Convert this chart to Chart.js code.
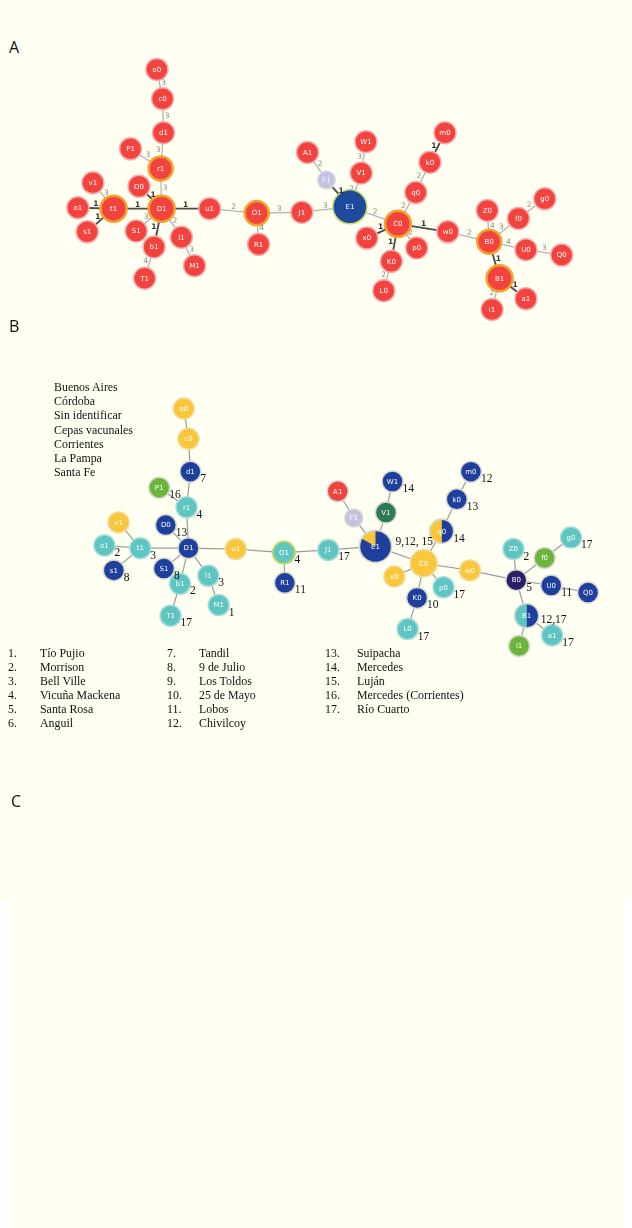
<!DOCTYPE html>
<html>
<head>
<meta charset="utf-8">
<script src="https://cdn.jsdelivr.net/npm/chart.js@4.4.1/dist/chart.umd.min.js"></script>
<style>
  html, body { margin: 0; padding: 0; background: #ffffff; }
  body { width: 632px; height: 1228px; position: relative; overflow: hidden; }
  .paper-top { position: absolute; left: 0; top: 0; width: 632px; height: 900px; background: #fffff2; }
  .paper-low { position: absolute; left: 7px; top: 900px; width: 616px; height: 328px; background: #fffff2; }
  canvas { position: absolute; left: 0; }
  .tag { position: absolute; left: 9px; font-family: "Open Sans", "DejaVu Sans", sans-serif; font-size: 16px; color: #111; line-height: 16px; }
  .serif { position: absolute; font-family: "Liberation Serif", "Times New Roman", serif; font-size: 11.9px; color: #111; }
  #legendB div { height: 14.2px; line-height: 14.2px; white-space: nowrap; }
  .col div { height: 14px; line-height: 14px; white-space: nowrap; }
</style>
</head>
<body>
<div class="paper-top"></div>
<div class="paper-low"></div>

<div class="tag" style="top:39px;">A</div>
<canvas id="netA" width="632" height="345" style="top:0px;"></canvas>

<div class="tag" style="top:318px;">B</div>
<canvas id="netB" width="632" height="315" style="top:360px;"></canvas>
<div id="legendB" class="serif" style="left:54px; top:380px;"></div>
<div id="placeList"></div>

<div class="tag" style="top:793px; left:11px;">C</div>

<script>
// ---- network nodes (layout coordinates for the two drawings) ----
const nodeIds = ['o0','c0','d1','P1','r1','v1','D0','o1','t1','D1','u1','O1','s1','S1','l1','b1','R1','M1','T1',
                 'J1','A1','F1','E1','V1','W1','q0','k0','m0','C0','x0','p0','K0','L0','w0',
                 'B0','Z0','f0','g0','U0','Q0','B1','a1','i1'];
const posAX = [147,153,154,119,151, 79,128, 63,101,152,203,253, 73,125,173,144,255,187,134,
               301,307,327,352,364,369,422,437,453,403,370,423,396,388,456,
               500,498,531,559,539,577,511,539,503];
const posAY = [ 57, 90,128,146,168,184,188,212,213,213,213,218,239,238,245,256,253,277,291,
               217,150,181,211,173,138,195,161,128,230,246,257,272,305,239,
               250,215,224,202,259,265,291,314,326];
const posBX = [176,181,183,150,179,107,157, 92,130,181,231,282,102,155,202,172,283,213,162,
               329,339,356,379,390,397,449,465,480,430,399,451,423,413,479,
               528,525,558,586,565,604,539,566,531];
const posBY = [395,429,466,484,506,523,526,549,552,552,553,557,577,575,583,592,591,616,628,
               554,488,518,550,512,477,533,497,466,569,584,596,608,643,577,
               588,553,563,540,594,602,628,650,662];

// ---- links between nodes and their allele differences ----
const edgeFrom   = ['o0','c0','d1','P1','r1','D0','v1','o1','s1','t1','D1','D1','D1','l1','b1','D1','u1','O1','O1','J1',
                    'A1','F1','V1','W1','E1','C0','q0','k0','C0','C0','K0','C0','C0','w0','B0','B0','f0','B0','U0','B0','B1','B1'];
const edgeTo     = ['c0','d1','r1','r1','D1','D1','t1','t1','t1','D1','S1','b1','l1','M1','T1','u1','O1','J1','R1','E1',
                    'F1','E1','E1','V1','C0','q0','k0','m0','x0','K0','L0','p0','w0','B0','Z0','f0','g0','U0','Q0','B1','a1','i1'];
const edgeWeight = [3,3,3,3,3,1,3,1,1,1,3,1,2,3,4,1,2,3,4,3,
                    2,1,2,3,2,2,2,1,1,1,2,2,1,2,4,3,2,4,3,1,1,2];

// ---- origin groups of the isolates (drawing B) ----
const groupB = ['SI','SI','BA','CO','CB','SI','BA','CB','CB','BA','SI','CB','BA','BA','CB','CB','BA','CB','CB',
                'CB','RD','CV','BA','SF','BA','SI','BA','BA','SI','SI','CB','BA','CB','SI',
                'LP','CB','CO','CB','BA','BA','CB','CB','CO'];
// nodes holding isolates of more than one group: group and count, clockwise from the top
const mixedNodes = ['E1','q0','B1'];
const mixedGroups = [['BA','SI'], ['BA','SI'], ['BA','CB']];
const mixedCounts = [[5,1], [1,1], [1,1]];
// place numbers written beside each node
const notesB = ['','','7','16','4','','13','2','3','','','4','8','8','3','2','11','1','17',
                '17','','','9,12, 15','','14','14','13','12','','','17','10','17','',
                '5','2','','17','11','','12,17','17',''];

const legendLabels = ['Buenos Aires','Córdoba','Sin identificar','Cepas vacunales','Corrientes','La Pampa','Santa Fe'];
const placeNames = ['Tío Pujio','Morrison','Bell Ville','Vicuña Mackena','Santa Rosa','Anguil',
                    'Tandil','9 de Julio','Los Toldos','25 de Mayo','Lobos','Chivilcoy',
                    'Suipacha','Mercedes','Luján','Mercedes (Corrientes)','Río Cuarto'];

// ---- styling ----
const groupColor = { BA:'#1f3f9c', CB:'#5ec5c1', SI:'#f9c63c', CV:'#c3c3e0', CO:'#6db43c', LP:'#2a2068', SF:'#2d7a58', RD:'#f2443f' };
const hubRing = ['t1','D1','r1','O1','C0','B0','B1'];
const radiusA = { t1:13, D1:13, r1:12, O1:12, C0:13, B0:12, B1:13, E1:17, F1:9 };
const radiusB = { C0:13.5, E1:16, q0:12, F1:9, B1:12, O1:11 };

function nodeRadius(panel, id) {
  const m = panel === 'A' ? radiusA : radiusB;
  return m[id] || (panel === 'A' ? 11 : 10.5);
}

function nodeStyle(panel, id, i) {
  if (panel === 'A') {
    let fill = '#f2433f', ring = '#f5aeae', w = 1.5;
    if (id === 'E1') { fill = '#1d4a9c'; ring = '#c9d86a'; w = 1.5; }
    if (id === 'F1') { fill = '#c4c4df'; ring = '#dcdcee'; }
    if (hubRing.includes(id)) { ring = '#f3a22c'; w = 2.5; }
    return { fill, ring, w };
  }
  const g = groupB[i];
  let fill = groupColor[g];
  let ring = '#d9d9d2', w = 1.5;
  if (g === 'CB') ring = '#a6dedb';
  if (g === 'SI') ring = '#f2dc9a';
  if (id === 'O1') { ring = '#b4d56a'; w = 2; }
  return { fill, ring, w };
}

const idx = {};
nodeIds.forEach((id, i) => { idx[id] = i; });

const decorPlugin = {
  id: 'netDecor',
  afterDatasetsDraw(chart, args, opts) {
    const ctx = chart.ctx;
    const sx = chart.scales.x, sy = chart.scales.y;
    const panel = opts.panel;
    const xs = panel === 'A' ? posAX : posBX;
    const ys = panel === 'A' ? posAY : posBY;
    const px = i => sx.getPixelForValue(xs[i]);
    const py = i => sy.getPixelForValue(ys[i]);
    ctx.save();

    // allele-difference numbers on the links
    if (panel === 'A') {
      edgeFrom.forEach((f, k) => {
        const a = idx[f], b = idx[edgeTo[k]];
        const x1 = px(a), y1 = py(a), x2 = px(b), y2 = py(b);
        const dx = x2 - x1, dy = y2 - y1, len = Math.hypot(dx, dy) || 1;
        let nx = -dy / len, ny = dx / len;
        if (ny > 0) { nx = -nx; ny = -ny; }
        const mx = (x1 + x2) / 2 + nx * 4, my = (y1 + y2) / 2 + ny * 4;
        ctx.font = (edgeWeight[k] === 1 ? 'bold ' : '') + '7.5px "DejaVu Sans", sans-serif';
        ctx.fillStyle = edgeWeight[k] === 1 ? '#333333' : '#8c8c8c';
        ctx.textAlign = 'center'; ctx.textBaseline = 'middle';
        ctx.fillText(String(edgeWeight[k]), mx, my);
      });
    }

    // mixed-origin nodes drawn as pies
    if (panel === 'B') {
      mixedNodes.forEach((id, m) => {
        const i = idx[id];
        const cx = px(i), cy = py(i), r = nodeRadius('B', id);
        const total = mixedCounts[m].reduce((s, v) => s + v, 0);
        let ang = -Math.PI / 2;
        mixedCounts[m].forEach((v, j) => {
          const a2 = ang + v / total * Math.PI * 2;
          ctx.beginPath(); ctx.moveTo(cx, cy); ctx.arc(cx, cy, r, ang, a2); ctx.closePath();
          ctx.fillStyle = groupColor[mixedGroups[m][j]]; ctx.fill();
          ang = a2;
        });
        ctx.beginPath(); ctx.arc(cx, cy, r, 0, Math.PI * 2);
        ctx.lineWidth = 1.5; ctx.strokeStyle = '#d9d9d2'; ctx.stroke();
      });
    }

    // node names
    nodeIds.forEach((id, i) => {
      ctx.font = '7px "DejaVu Sans", sans-serif';
      ctx.fillStyle = (panel === 'A' && id === 'F1') ? '#f4f4fb' : '#ffffff';
      ctx.textAlign = 'center'; ctx.textBaseline = 'middle';
      ctx.fillText(id, px(i), py(i) + 0.5);
    });

    // place numbers beside nodes
    if (panel === 'B') {
      ctx.font = '11.5px "Liberation Serif", "Times New Roman", serif';
      ctx.fillStyle = '#111111';
      ctx.textAlign = 'left'; ctx.textBaseline = 'middle';
      notesB.forEach((t, i) => {
        if (!t) return;
        const r = nodeRadius('B', nodeIds[i]);
        let x, y;
        if (t.indexOf(',') >= 0) {
          x = px(i) + r + (r > 14 ? 4 : 2);
          y = py(i) + (r > 14 ? -4 : 4);
        } else {
          x = px(i) + r - 0.5;
          y = py(i) + 7.5;
        }
        ctx.fillText(t, x, y);
      });
    }
    ctx.restore();
  }
};

function buildChart(canvasId, panel, yMin, yMax) {
  const xs = panel === 'A' ? posAX : posBX;
  const ys = panel === 'A' ? posAY : posBY;
  const datasets = [];

  const styles = nodeIds.map((id, i) => nodeStyle(panel, id, i));
  datasets.push({
    label: 'nodes',
    order: 0,
    data: nodeIds.map((id, i) => ({ x: xs[i], y: ys[i] })),
    pointRadius: nodeIds.map(id => nodeRadius(panel, id)),
    pointHoverRadius: nodeIds.map(id => nodeRadius(panel, id)),
    pointBackgroundColor: styles.map(s => s.fill),
    pointBorderColor: styles.map(s => s.ring),
    pointBorderWidth: styles.map(s => s.w),
    pointHoverBorderWidth: styles.map(s => s.w),
    showLine: false,
    clip: false
  });

  edgeFrom.forEach((f, k) => {
    const a = idx[f], b = idx[edgeTo[k]];
    const strong = panel === 'A' && edgeWeight[k] === 1;
    datasets.push({
      label: f + '-' + edgeTo[k],
      order: 1,
      data: [{ x: xs[a], y: ys[a] }, { x: xs[b], y: ys[b] }],
      showLine: true,
      borderColor: panel === 'A' ? (strong ? '#4a4a4a' : '#b4b4b4') : '#9c9c9c',
      borderWidth: panel === 'A' ? (strong ? 1.8 : 1.3) : 1.2,
      pointRadius: 0,
      pointHoverRadius: 0,
      clip: false
    });
  });

  return new Chart(document.getElementById(canvasId), {
    type: 'scatter',
    data: { datasets },
    options: {
      responsive: false,
      animation: false,
      devicePixelRatio: 1,
      events: [],
      layout: { padding: 0 },
      scales: {
        x: { type: 'linear', display: false, min: 0, max: 632 },
        y: { type: 'linear', display: false, min: yMin, max: yMax, reverse: true }
      },
      plugins: {
        legend: { display: false },
        tooltip: { enabled: false },
        netDecor: { panel }
      }
    },
    plugins: [decorPlugin]
  });
}

buildChart('netA', 'A', 0, 345);
buildChart('netB', 'B', 360, 675);

// legend of origins
const lg = document.getElementById('legendB');
legendLabels.forEach(t => { const d = document.createElement('div'); d.textContent = t; lg.appendChild(d); });

// numbered list of places, three columns of six
const list = document.getElementById('placeList');
const colX = [[8, 40], [167, 199], [325, 357]];
for (let c = 0; c < 3; c++) {
  const nums = document.createElement('div');
  const names = document.createElement('div');
  nums.className = 'serif col'; names.className = 'serif col';
  nums.style.left = colX[c][0] + 'px'; names.style.left = colX[c][1] + 'px';
  nums.style.top = '646px'; names.style.top = '646px';
  for (let r = 0; r < 6; r++) {
    const n = c * 6 + r;
    if (n >= placeNames.length) break;
    const a = document.createElement('div'); a.textContent = (n + 1) + '.';
    const b = document.createElement('div'); b.textContent = placeNames[n];
    nums.appendChild(a); names.appendChild(b);
  }
  list.appendChild(nums); list.appendChild(names);
}
</script>
</body>
</html>
